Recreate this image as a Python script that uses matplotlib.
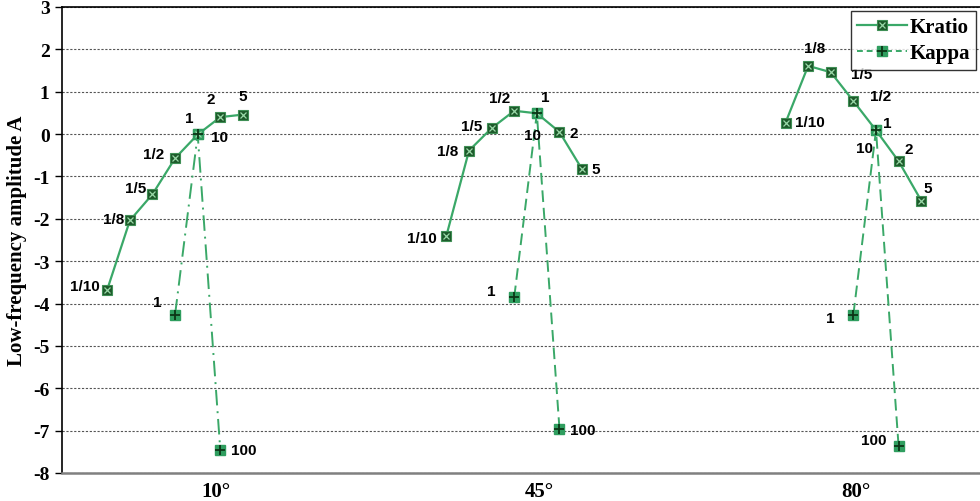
import matplotlib
matplotlib.use("Agg")
import matplotlib.pyplot as plt
from matplotlib.legend_handler import HandlerTuple

# Angles and the ratio labels of each point
groups = ["10°", "45°", "80°"]
kratio_labels = ["1/10", "1/8", "1/5", "1/2", "1", "2", "5"]
kappa_labels = ["1", "10", "100"]

# Low-frequency amplitude A for each angle
kratio_10 = [-3.67, -2.04, -1.42, -0.57, -0.01, 0.40, 0.46]
kratio_45 = [-2.40, -0.39, 0.14, 0.55, 0.49, 0.05, -0.83]
kratio_80 = [0.27, 1.61, 1.46, 0.78, 0.09, -0.64, -1.57]
kappa_10 = [-4.26, -0.01, -7.46]
kappa_45 = [-3.85, 0.49, -6.95]
kappa_80 = [-4.26, 0.09, -7.37]

kratio_sets = [kratio_10, kratio_45, kratio_80]
kappa_sets = [kappa_10, kappa_45, kappa_80]

# Layout: slot index of each point along the category axis
group_start = [0, 15, 30]
kappa_slots = [3, 4, 5]
group_tick_pos = [4.8, 19.1, 33.1]

# Label offsets (pixels) for each point
kratio_off = [
    [(-22, 4), (-16, 1), (-17, 6), (-21, 4), (-8, 16), (-10, 18), (0, 19)],
    [(-25, -2), (-21, 0), (-20, 2), (-15, 13), (8, 16), (14, -1), (14, 0)],
    [(24, 1), (6, 18), (31, -2), (27, 5), (11, 7), (10, 12), (7, 13)],
]
kappa_off = [
    [(-18, 13), (22, -3), (23, 0)],
    [(-23, 6), (-4, -22), (23, -1)],
    [(-23, -3), (-11, -18), (-25, 6)],
]
kappa_styles = [(0, (8, 3, 1, 3)), (0, (6, 3)), (0, (6, 3))]

line_c = "#3aa868"
kr_face = "#1d5a2a"
kr_cross = "#9ad8a8"
ka_face = "#2f9e5f"
ka_cross = "#0c3516"

fig = plt.figure(figsize=(9.8, 5.02), dpi=100)
ax = fig.add_axes([0.0633, 0.0558, 0.9367, 0.9283])

sans = "Liberation Sans"
serif = "Liberation Serif"

for g in range(3):
    xs = [group_start[g] + i for i in range(len(kratio_labels))]
    ys = kratio_sets[g]
    kr_line, = ax.plot(xs, ys, color=line_c, lw=1.6, marker="s", ms=6.5,
                       mfc=kr_face, mec="#3f8f55", mew=0.8, zorder=3)
    kr_x, = ax.plot(xs, ys, ls="none", marker="x", ms=4.5, mec=kr_cross,
                    mew=0.9, zorder=4)
    kx = [group_start[g] + s for s in kappa_slots]
    ky = kappa_sets[g]
    ka_line, = ax.plot(kx, ky, color=line_c, lw=1.4, ls=kappa_styles[g],
                       marker="s", ms=6.5, mfc=ka_face, mec=ka_face,
                       zorder=3)
    ka_x, = ax.plot(kx, ky, ls="none", marker="+", ms=7, mec=ka_cross,
                    mew=1.3, zorder=4)
    if g == 0:
        leg_kr = (kr_line, kr_x)
        ka_leg_line, = ax.plot([], [], color=line_c, lw=1.4, ls=(0, (3, 2)),
                               marker="s", ms=6.5, mfc=ka_face, mec=ka_face)
        leg_ka = (ka_leg_line, ka_x)
    for i, (x, y) in enumerate(zip(xs, ys)):
        dx, dy = kratio_off[g][i]
        ax.annotate(kratio_labels[i], (x, y), xytext=(dx, dy),
                    textcoords="offset pixels", ha="center", va="center",
                    fontsize=11, fontweight="bold", family=sans, zorder=5)
    for i, (x, y) in enumerate(zip(kx, ky)):
        dx, dy = kappa_off[g][i]
        ax.annotate(kappa_labels[i], (x, y), xytext=(dx, dy),
                    textcoords="offset pixels", ha="center", va="center",
                    fontsize=11, fontweight="bold", family=sans, zorder=5)

ax.set_xlim(-2, 38.6)
ax.set_ylim(-8, 3)
ax.set_yticks(range(-8, 4))
ax.set_yticklabels([str(v) for v in range(-8, 4)], fontsize=14,
                   fontweight="bold", family=serif)
ax.set_xticks(group_tick_pos)
ax.set_xticklabels(groups, fontsize=15, fontweight="bold", family=serif)
ax.tick_params(axis="x", length=0, pad=6)
ax.tick_params(axis="y", length=5, width=1, direction="out", pad=4)
ax.grid(axis="y", color="#555555", ls=(0, (2, 1.5)), lw=0.8)
ax.set_axisbelow(True)

for s in ["left", "top"]:
    ax.spines[s].set_color("black")
    ax.spines[s].set_linewidth(1.2)
ax.spines["bottom"].set_color("#808080")
ax.spines["bottom"].set_linewidth(1.8)
ax.spines["right"].set_visible(False)

ax.set_ylabel("Low-frequency amplitude A", fontsize=15, fontweight="bold",
              family=serif, labelpad=4)

leg = fig.legend([leg_kr, leg_ka], ["Kratio", "Kappa"],
                 handler_map={tuple: HandlerTuple(ndivide=1, pad=0)},
                 loc="upper left", bbox_to_anchor=(851 / 980, 1 - 12 / 502),
                 prop={"family": serif, "weight": "bold", "size": 15},
                 frameon=True, fancybox=False, edgecolor="black",
                 handlelength=2.4, handletextpad=0.1, borderpad=0.3,
                 borderaxespad=0, labelspacing=0.3)
leg.get_frame().set_linewidth(1.0)

fig.savefig("out.png", dpi=100)
